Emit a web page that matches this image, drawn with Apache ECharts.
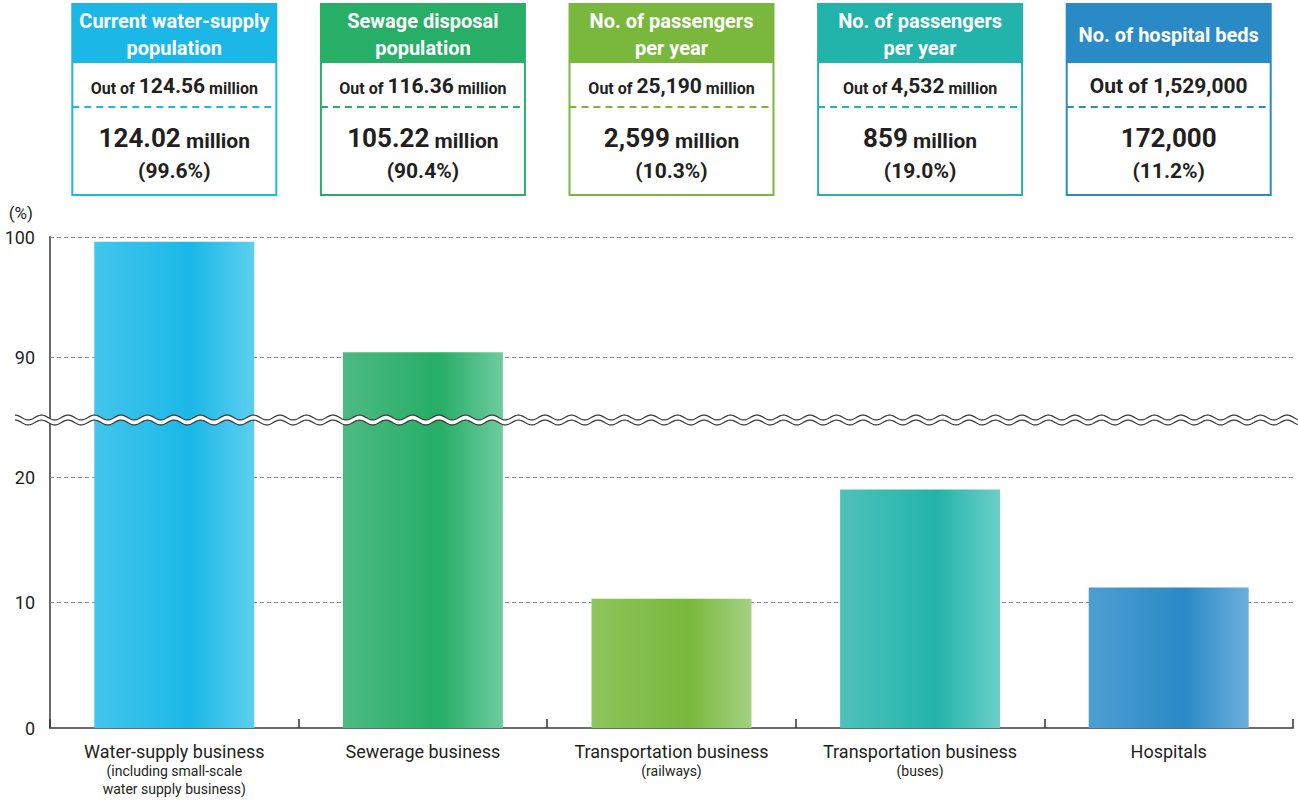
<!DOCTYPE html>
<html><head><meta charset="utf-8">
<script src="https://cdn.jsdelivr.net/npm/echarts@6/dist/echarts.min.js"></script>
<style>html,body{margin:0;padding:0;background:#fff}#c{width:1298px;height:804px}</style>
</head><body><div id="c"></div>
<script>
// ---- data ----
const categories = ['Water-supply business', 'Sewerage business', 'Transportation business', 'Transportation business', 'Hospitals'];
const subLabels = ['(including small-scale\nwater supply business)', '', '(railways)', '(buses)', ''];
const values = [99.6, 90.4, 10.3, 19.0, 11.2];
const yTickLabels = [0, 10, 20, 90, 100];
const boxTitles = ['Current water-supply\npopulation', 'Sewage disposal\npopulation', 'No. of passengers\nper year', 'No. of passengers\nper year', 'No. of hospital beds'];
const boxTotals = ['124.56', '116.36', '25,190', '4,532', '1,529,000'];
const boxTotalUnits = ['million', 'million', 'million', 'million', ''];
const boxCounts = ['124.02', '105.22', '2,599', '859', '172,000'];
const boxCountUnits = ['million', 'million', 'million', 'million', ''];
const boxPercents = ['(99.6%)', '(90.4%)', '(10.3%)', '(19.0%)', '(11.2%)'];

// ---- styles ----
const FONT = 'Roboto, "Liberation Sans", sans-serif';
const headerColors = ['#1bb7e6', '#27ae67', '#7ab83d', '#22b3aa', '#2a8ac6'];
const barGrad = [
  ['#42c5ec', '#1bb7e6', '#5dcff0'],
  ['#4cb983', '#26ad66', '#6ecb9f'],
  ['#8dc55b', '#78b73c', '#a4d181'],
  ['#4ec1bb', '#22b3aa', '#6ccfc8'],
  ['#4c9ed1', '#2a8ac6', '#6cafdc']
];
const TXT = '#231f20';
const LOWER_MAX = 20, UPPER_MIN = 80;

function grad(c) {
  return new echarts.graphic.LinearGradient(0, 0, 1, 0, [
    {offset: 0, color: c[0]}, {offset: 0.6, color: c[1]}, {offset: 1, color: c[2]}
  ]);
}
const barData = values.map((v, i) => ({value: v, itemStyle: {color: grad(barGrad[i])}}));

const chart = echarts.init(document.getElementById('c'), null, {renderer: 'svg'});

const gridLine = {show: true, lineStyle: {color: '#8a8a8a', width: 1, type: [4, 3]}};
const yLabel = {color: TXT, fontSize: 18, fontFamily: FONT, margin: 15,
  formatter: v => yTickLabels.indexOf(v) >= 0 ? String(v) : ''};
const axisLine = {show: true, lineStyle: {color: '#6b6b6b', width: 2}};

const option = {
  animation: false,
  grid: [
    {left: 50, right: 5, top: 477, bottom: 76},
    {left: 50, right: 5, top: 237, bottom: 327}
  ],
  xAxis: [
    {type: 'category', gridIndex: 0, data: categories,
      axisLine: {show: true, lineStyle: {color: '#6b6b6b', width: 2}},
      axisTick: {show: true, inside: true, length: 9, lineStyle: {color: '#333', width: 1.5}},
      axisLabel: {margin: 12, color: TXT, fontFamily: FONT, interval: 0,
        formatter: (v, i) => '{a|' + v + '}' + (subLabels[i] ? '\n{b|' + subLabels[i].split('\n').join('}\n{b|') + '}' : ''),
        rich: {a: {fontSize: 18, lineHeight: 22, color: TXT, fontFamily: FONT},
               b: {fontSize: 14, lineHeight: 18, color: TXT, fontFamily: FONT}}}},
    {type: 'category', gridIndex: 1, data: categories, show: false}
  ],
  yAxis: [
    {type: 'value', gridIndex: 0, min: 0, max: LOWER_MAX, interval: 10,
      axisLine: axisLine, axisTick: {show: false}, splitLine: gridLine, axisLabel: yLabel},
    {type: 'value', gridIndex: 1, min: UPPER_MIN, max: 100, interval: 10,
      axisLine: axisLine, axisTick: {show: false}, splitLine: gridLine, axisLabel: yLabel,
      name: '(%)', nameLocation: 'end', nameGap: 16,
      nameTextStyle: {color: TXT, fontSize: 17, fontFamily: FONT, align: 'right', padding: [0, 17, 0, 0]}}
  ],
  series: [
    {type: 'bar', xAxisIndex: 0, yAxisIndex: 0, data: barData, barWidth: 160, clip: true, silent: true},
    {type: 'bar', xAxisIndex: 1, yAxisIndex: 1, data: barData.map(d => d.value > UPPER_MIN ? d : '-'), barWidth: 160, clip: true, silent: true}
  ]
};
chart.setOption(option);

// ---- decorations: header boxes and axis break ----
const graphics = [];
const BOX_W = 204, BOX_TOP = 4, BOX_BOT = 195, HEAD_BOT = 63, DASH_Y = 107;
const bold = (size) => ({fontSize: size, fontWeight: 'bold', fontFamily: FONT, fill: TXT, verticalAlign: 'bottom'});
values.forEach((v, i) => {
  const cx = chart.convertToPixel({xAxisIndex: 0}, i);
  const x0 = cx - BOX_W / 2;
  const col = headerColors[i];
  graphics.push(
    {type: 'rect', shape: {x: x0, y: BOX_TOP, width: BOX_W, height: BOX_BOT - BOX_TOP}, style: {fill: '#fff', stroke: col, lineWidth: 2}, z: 10},
    {type: 'rect', shape: {x: x0, y: BOX_TOP, width: BOX_W, height: HEAD_BOT - BOX_TOP}, style: {fill: col}, z: 11},
    {type: 'line', shape: {x1: x0, y1: DASH_Y, x2: x0 + BOX_W, y2: DASH_Y}, style: {stroke: col, lineWidth: 2, lineDash: [7, 5]}, z: 11},
    {type: 'text', z: 12, style: {text: boxTitles[i], x: cx, y: (BOX_TOP + HEAD_BOT) / 2 + 1, align: 'center', verticalAlign: 'middle',
      fill: '#fff', font: 'bold 20px ' + FONT, lineHeight: 27}},
    {type: 'text', z: 12, style: {
      text: boxTotalUnits[i] ? '{s|Out of }{b|' + boxTotals[i] + '}{s| ' + boxTotalUnits[i] + '}' : '{m|Out of ' + boxTotals[i] + '}',
      x: cx, y: 86, align: 'center', verticalAlign: 'middle', fill: TXT,
      rich: {s: bold(16), b: bold(21), m: bold(21)}}},
    {type: 'text', z: 12, style: {
      text: '{b|' + boxCounts[i] + '}' + (boxCountUnits[i] ? '{s| ' + boxCountUnits[i] + '}' : ''),
      x: cx, y: 138, align: 'center', verticalAlign: 'middle', fill: TXT,
      rich: {b: bold(26), s: bold(21)}}},
    {type: 'text', z: 12, style: {text: boxPercents[i], x: cx, y: 171, align: 'center', verticalAlign: 'middle',
      fill: TXT, font: 'bold 21px ' + FONT}}
  );
});

// wavy break line across the chart
const BREAK_VALUE = 84.75; // upper-axis value where the break is drawn
const yB = chart.convertToPixel({yAxisIndex: 1}, BREAK_VALUE);
const PERIOD = 26.5, AMP = 2.4, GAP = 5, WX0 = 15, WX1 = 1298;
function wave(y0) {
  const pts = [];
  for (let x = WX0; x <= WX1; x += 1) pts.push([x, y0 - AMP * Math.cos((x - WX0) / PERIOD * 2 * Math.PI)]);
  return pts;
}
const waveTop = wave(yB - GAP / 2), waveBot = wave(yB + GAP / 2);
graphics.push(
  {type: 'polygon', z: 20, shape: {points: waveTop.concat(waveBot.slice().reverse())}, style: {fill: '#fff', stroke: null}},
  {type: 'polyline', z: 21, shape: {points: waveTop}, style: {stroke: '#3a3a3a', lineWidth: 1.2, fill: null}},
  {type: 'polyline', z: 21, shape: {points: waveBot}, style: {stroke: '#3a3a3a', lineWidth: 1.2, fill: null}}
);
chart.setOption({graphic: graphics});
</script>
</body></html>
